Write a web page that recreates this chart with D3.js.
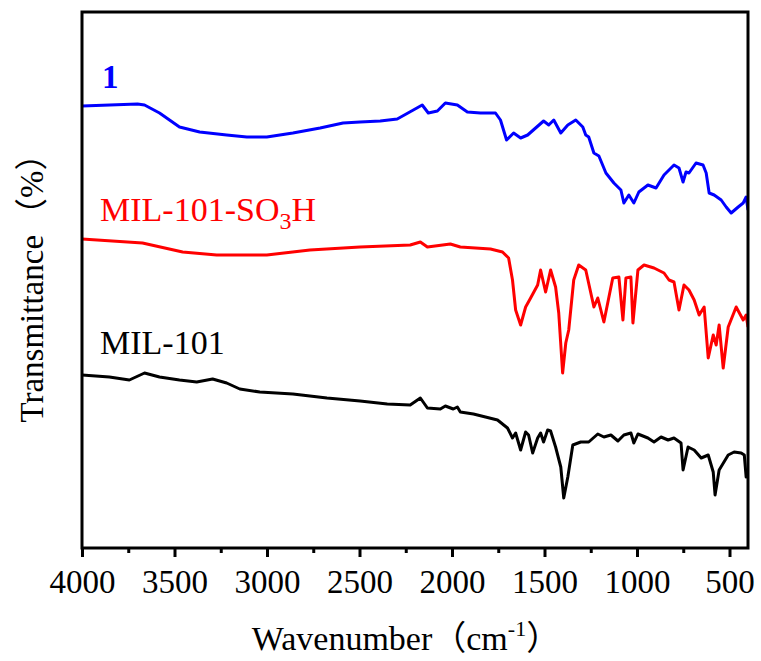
<!DOCTYPE html>
<html>
<head>
<meta charset="utf-8">
<script src="https://cdn.jsdelivr.net/npm/d3@7"></script>
<style>
  body { margin: 0; background: #fff; }
  svg text { font-family: "Liberation Serif", "Times New Roman", "Noto Sans CJK SC", serif; }
</style>
</head>
<body>
<div id="chart"></div>
<script>
// wavenumber (cm-1) and transmittance (a.u., offset stacked)
const wn1 = [4000, 3850, 3700, 3662, 3581, 3473, 3364, 3218, 3109, 3001, 2860, 2713, 2589, 2497, 2388, 2296, 2209, 2161, 2128, 2079, 2036, 1971, 1917, 1846, 1765, 1738, 1705, 1667, 1629, 1591, 1505, 1477, 1450, 1412, 1374, 1331, 1293, 1277, 1261, 1233, 1206, 1168, 1125, 1087, 1071, 1044, 1017, 990, 941, 897, 854, 800, 773, 751, 735, 719, 681, 643, 626, 610, 583, 545, 518, 491, 453, 426, 410, 400];
const t1 = [442, 443, 444, 443, 435, 421, 416, 413, 411, 411, 415, 420, 425, 426, 427, 429, 438, 443, 435, 437, 445, 443, 436, 435, 435, 428, 408, 415, 410, 413, 427, 423, 428, 415, 423, 428, 421, 413, 411, 395, 392, 375, 365, 358, 345, 353, 345, 356, 363, 360, 373, 383, 380, 366, 376, 375, 385, 383, 375, 355, 353, 348, 341, 335, 341, 345, 351, 338];

const wnSO3H = [4000, 3673, 3456, 3272, 3001, 2768, 2497, 2226, 2171, 2133, 2009, 1955, 1792, 1727, 1694, 1673, 1656, 1629, 1602, 1575, 1537, 1521, 1494, 1467, 1440, 1423, 1402, 1385, 1369, 1342, 1315, 1277, 1233, 1212, 1179, 1131, 1098, 1076, 1060, 1033, 1022, 995, 962, 908, 854, 827, 800, 773, 746, 719, 691, 664, 637, 615, 588, 572, 556, 534, 507, 464, 426, 410, 400];
const tSO3H = [309, 305, 296, 293, 293, 298, 301, 303, 306, 301, 304, 301, 299, 296, 290, 268, 238, 223, 241, 250, 263, 278, 256, 278, 261, 235, 175, 205, 218, 268, 283, 278, 241, 250, 226, 270, 271, 228, 270, 271, 225, 278, 283, 280, 275, 268, 266, 238, 263, 258, 248, 233, 241, 190, 213, 203, 223, 180, 221, 241, 228, 233, 221];

const wnMIL = [4000, 3852, 3744, 3662, 3581, 3473, 3380, 3294, 3218, 3147, 3039, 2860, 2676, 2497, 2350, 2226, 2171, 2133, 2063, 2036, 1993, 1971, 1955, 1884, 1754, 1700, 1673, 1656, 1629, 1602, 1586, 1564, 1537, 1521, 1505, 1483, 1467, 1440, 1412, 1396, 1374, 1347, 1304, 1261, 1212, 1179, 1141, 1103, 1071, 1033, 1017, 995, 941, 908, 870, 832, 800, 762, 751, 724, 691, 653, 615, 588, 578, 556, 507, 475, 437, 420, 410, 405];
const tMIL = [173, 171, 168, 175, 171, 168, 166, 169, 165, 159, 156, 154, 150, 147, 144, 143, 150, 140, 139, 142, 139, 141, 136, 134, 128, 120, 110, 115, 98, 116, 113, 95, 110, 115, 106, 118, 117, 101, 81, 50, 71, 103, 106, 106, 114, 111, 113, 107, 113, 115, 105, 114, 110, 106, 111, 108, 110, 105, 78, 101, 98, 90, 93, 76, 53, 78, 93, 96, 95, 93, 71, 78];

const majorTicks = [4000, 3500, 3000, 2500, 2000, 1500, 1000, 500];
const minorTicks = [3750, 3250, 2750, 2250, 1750, 1250, 750];

const series = [
  { name: "1", wn: wn1, t: t1, color: "#0000ff" },
  { name: "MIL-101-SO3H", wn: wnSO3H, t: tSO3H, color: "#ff0000" },
  { name: "MIL-101", wn: wnMIL, t: tMIL, color: "#000000" }
];

const W = 761, H = 661;
const mLeft = 82, mRight = 748, mTop = 12, mBottom = 548;
const serif = "'Liberation Serif', 'Times New Roman', serif";
const cjk = "'Noto Sans CJK SC', sans-serif";

const svg = d3.select("#chart").append("svg")
  .attr("width", W)
  .attr("height", H);

const x = d3.scaleLinear().domain([4000, 400]).range([mLeft, mRight]);
const y = d3.scaleLinear().domain([0, 536]).range([mBottom, mTop]);

svg.append("clipPath")
  .attr("id", "plot-area")
  .append("rect")
  .attr("x", mLeft)
  .attr("y", mTop)
  .attr("width", mRight - mLeft)
  .attr("height", mBottom - mTop);

const line = d3.line()
  .x(d => x(d[0]))
  .y(d => y(d[1]));

series.forEach(s => {
  const pts = s.wn.map((w, i) => [w, s.t[i]]);
  svg.append("path")
    .datum(pts)
    .attr("clip-path", "url(#plot-area)")
    .attr("fill", "none")
    .attr("stroke", s.color)
    .attr("stroke-width", 3)
    .attr("stroke-linejoin", "round")
    .attr("d", line);
});

// minor ticks
const minorAxis = svg.append("g")
  .attr("transform", "translate(0," + mBottom + ")")
  .call(d3.axisBottom(x).tickValues(minorTicks).tickSize(5).tickFormat(""));
minorAxis.select(".domain").remove();
minorAxis.selectAll("line").attr("stroke", "#000").attr("stroke-width", 3);

// major ticks
const xAxis = svg.append("g")
  .attr("transform", "translate(0," + mBottom + ")")
  .call(d3.axisBottom(x).tickValues(majorTicks).tickSize(9).tickFormat(d3.format("d")));
xAxis.attr("font-family", serif).attr("font-size", 33);
xAxis.select(".domain").remove();
xAxis.selectAll("line").attr("stroke", "#000").attr("stroke-width", 3);
xAxis.selectAll("text")
  .attr("y", 45)
  .attr("dy", null)
  .attr("fill", "#000")
  .style("font-size", "33px")
  .style("font-family", serif);

// frame
svg.append("rect")
  .attr("x", mLeft)
  .attr("y", mTop)
  .attr("width", mRight - mLeft)
  .attr("height", mBottom - mTop)
  .attr("fill", "none")
  .attr("stroke", "#000")
  .attr("stroke-width", 3);

// series labels
svg.append("text")
  .attr("x", 102).attr("y", 88)
  .attr("fill", "#0000ff")
  .attr("font-weight", "bold")
  .style("font-size", "33px")
  .text("1");

const so3h = svg.append("text")
  .attr("x", 100).attr("y", 221)
  .attr("fill", "#ff0000")
  .style("font-size", "34px");
so3h.append("tspan").text("MIL-101-SO");
so3h.append("tspan").attr("dy", 8).style("font-size", "24px").text("3");
so3h.append("tspan").attr("dy", -8).text("H");

svg.append("text")
  .attr("x", 100).attr("y", 354)
  .attr("fill", "#000")
  .style("font-size", "34px")
  .text("MIL-101");

// axis titles
const xt = svg.append("text")
  .attr("x", 406)
  .attr("y", 650)
  .attr("text-anchor", "middle")
  .attr("fill", "#000")
  .style("font-size", "34px");
xt.append("tspan").text("Wavenumber");
xt.append("tspan").style("font-family", cjk).text("（");
xt.append("tspan").text("cm");
xt.append("tspan").attr("dy", -14).style("font-size", "22px").text("-1");
xt.append("tspan").attr("dy", 14).style("font-family", cjk).text("）");

const yt = svg.append("text")
  .attr("transform", "translate(43," + (mTop + mBottom) / 2 + ") rotate(-90)")
  .attr("text-anchor", "middle")
  .attr("fill", "#000")
  .style("font-size", "33px");
yt.append("tspan").text("Transmittance");
yt.append("tspan").attr("dx", 4).style("font-family", cjk).text("（");
yt.append("tspan").text("%");
yt.append("tspan").style("font-family", cjk).text("）");
</script>
</body>
</html>
